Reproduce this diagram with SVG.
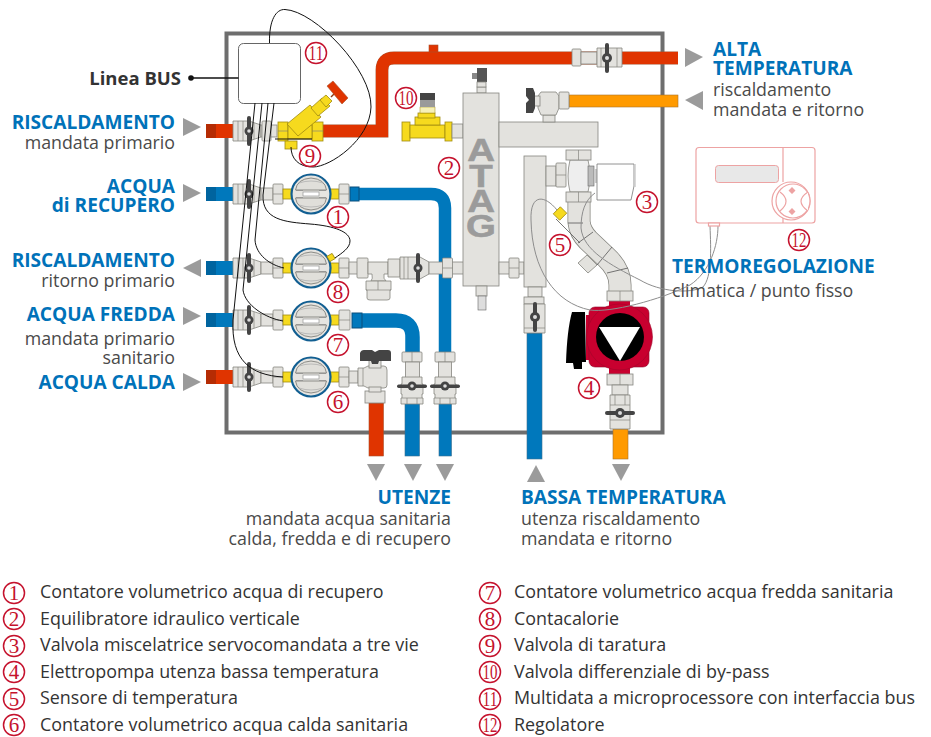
<svg xmlns="http://www.w3.org/2000/svg" width="931" height="737" viewBox="0 0 931 737">
<style>
text{font-family:"Open Sans","Noto Sans","Liberation Sans",sans-serif}
.h{font-size:19.100px;font-weight:700;fill:#0072b9}
.t{font-size:17.800px;fill:#4a4a4a}
.l{font-size:17.900px;fill:#333}
.e{text-anchor:end}
.n circle{fill:#fff;stroke:#c5122d;stroke-width:1.500}
.n text{font-family:"Liberation Serif",serif;font-size:21px;fill:#c5122d;text-anchor:middle}
.g{fill:#e3e2de;stroke:#85857f;stroke-width:.8}
.ln{stroke:#85857f;stroke-width:.7;fill:none}
.y{fill:#f6da1e;stroke:#a08a10;stroke-width:.8}
.hd{fill:#444}
.tri{fill:#9b9b9b}
.red{fill:#e03400;stroke:#a8502c;stroke-width:.6}
.blue{fill:#0078bc;stroke:#3b6f90;stroke-width:.6}
.or{fill:#ff9a00;stroke:#a8742c;stroke-width:.6}
.w{fill:none;stroke:#111;stroke-width:1}
.wg{fill:none;stroke:#8d8d8d;stroke-width:1}
.rg{fill:#fff;stroke:#eda3a3;stroke-width:1.200}
</style>
<defs>
<g id="meter">
<circle r="19.500" fill="#e6e5e1" stroke="#125f92" stroke-width="2.200"/>
<path d="M-15.500-4Q-14-15 0-16Q14-15 15.500-4Z" fill="#e0dfda" stroke="#8b8b86" stroke-width="1"/>
<path d="M-15.500 4Q-14 15 0 16Q14 15 15.500 4Z" fill="#e0dfda" stroke="#8b8b86" stroke-width="1"/>
<path d="M-12-11Q0-15 12-11M-12 11Q0 15 12 11" fill="none" stroke="#aaa" stroke-width=".7"/>
<rect x="-8" y="-2" width="16" height="4" fill="#fff" stroke="#888" stroke-width=".6"/>
<path d="M-15-3.500H-8M8-3.500H15M-15 3.500H-8M8 3.500H15" stroke="#888" stroke-width=".7"/>
</g>
<g id="valveH">
<path class="g" d="M0-10H16L28-6V6L16 10H0Z"/>
<path class="ln" d="M5-10V10M10-10V10M21-8V8"/>
<rect x="14" y="-15" width="4" height="30" rx="2" class="hd"/>
<circle cx="16" r="4.500" fill="#444"/><circle cx="16" r="1.800" fill="#ddd"/>
</g>
<g id="valveV">
<path class="g" d="M-10-9H10V-2H11V8H10V12H11V18H-11V12H-10V8H-11V-2H-10Z"/>
<path class="ln" d="M-10 12H10M-5 12V18M5 12V18"/>
<rect x="-15" y="-1.500" width="30" height="3.500" rx="1.700" class="hd"/>
<circle r="4.500" fill="#444"/><circle r="1.800" fill="#ddd"/>
</g>
<g id="fit"><rect x="-5" y="-10" width="10" height="20" rx="1" class="g"/><path class="ln" d="M-5 0H5"/></g>
<g id="fitV"><rect x="-10" y="-5" width="20" height="10" rx="1" class="g"/><path class="ln" d="M0-5V5"/></g>
</defs>
<rect width="931" height="737" fill="#fff"/>
<rect id="frame" x="226.500" y="33.500" width="436" height="399" fill="#fff" stroke="#6e6e6e" stroke-width="4"/>

<g id="pipes">
<path d="M323 131H382V70Q382 58 394 58H678" fill="none" stroke="#a8502c" stroke-width="12.800"/>
<path d="M323 131H382V70Q382 58 394 58H678" fill="none" stroke="#e03400" stroke-width="12"/>
<rect x="429" y="45" width="9" height="7" class="red"/>
<path d="M358 194H431Q445 194 445 208V352" fill="none" stroke="#0078bc" stroke-width="12.500"/>
<path d="M362 320.500H396Q412.500 320.500 412.500 337V352" fill="none" stroke="#0078bc" stroke-width="14.500"/>
<rect x="405" y="403" width="14.500" height="53" class="blue"/>
<rect x="439" y="403" width="12.500" height="53" class="blue"/>
<rect x="369" y="403" width="14.500" height="53" class="red"/>
<rect x="527" y="333" width="15" height="126" class="blue"/>
<rect x="613" y="429" width="15" height="30" class="or"/>
<rect x="569" y="95" width="109" height="12" class="or"/>
</g>

<g id="inlets">
<rect x="206" y="124" width="10" height="14" fill="#b52c04"/><rect x="216" y="124" width="18" height="14" fill="#e03400"/>
<rect x="206" y="187" width="10" height="14" fill="#00649f"/><rect x="216" y="187" width="18" height="14" fill="#0078bc"/>
<rect x="206" y="261" width="10" height="14" fill="#00649f"/><rect x="216" y="261" width="18" height="14" fill="#0078bc"/>
<rect x="206" y="313" width="10" height="14" fill="#00649f"/><rect x="216" y="313" width="18" height="14" fill="#0078bc"/>
<rect x="206" y="370" width="10" height="14" fill="#b52c04"/><rect x="216" y="370" width="18" height="14" fill="#e03400"/>
</g>

<g id="row-heating-in">
<use href="#valveH" x="233" y="131"/>
<rect x="261" y="125" width="16" height="12" class="g"/>
<rect x="262" y="121" width="9" height="20" rx="1" class="g"/>
</g>
<g id="row-recovery">
<use href="#valveH" x="233" y="194"/>
<rect x="261" y="188" width="12" height="12" class="g"/>
<use href="#fit" x="278" y="194"/>
<rect x="283" y="189" width="9" height="10" class="y"/><rect x="330" y="189" width="9" height="10" class="y"/>
<use href="#fit" x="344" y="194"/>
<rect x="350" y="187" width="9" height="14" fill="#0078bc" stroke="#0a4f7c"/>
</g>
<g id="row-return">
<use href="#valveH" x="233" y="268"/>
<rect x="261" y="262" width="12" height="12" class="g"/>
<use href="#fit" x="278" y="268"/>
<rect x="283" y="263" width="9" height="10" class="y"/><rect x="330" y="263" width="9" height="10" class="y"/>
<use href="#fit" x="344" y="268"/>
<rect x="349" y="262" width="9" height="12" class="g"/>
<rect x="357" y="258" width="11" height="20" rx="1" class="g"/>
<path class="g" d="M368 262H388V274H384Q383 279 386 281H371Q373 279 372 274H368Z"/>
<path class="g" d="M366 281H391V290H390V298Q390 300 387 300H370Q367 300 367 298V290H366Z"/>
<path class="ln" d="M366 290H391M378 281V290"/>
<path class="g" d="M388 259H400V277H388Z"/>
<path class="g" d="M400 257H420L429 262V274L420 279H400Z"/>
<path class="ln" d="M404 257V279M408 257V279"/>
<rect x="416" y="253" width="4" height="30" rx="2" class="hd"/>
<circle cx="418" cy="268" r="4.500" fill="#444"/><circle cx="418" cy="268" r="1.800" fill="#ddd"/>
<rect x="429" y="262" width="35" height="12" class="g"/>
<use href="#fit" x="447.500" y="268"/>
</g>
<g id="row-cold">
<use href="#valveH" x="233" y="320"/>
<rect x="261" y="314" width="12" height="12" class="g"/>
<use href="#fit" x="278" y="320"/>
<rect x="283" y="315" width="9" height="10" class="y"/><rect x="330" y="315" width="9" height="10" class="y"/>
<rect x="339" y="310" width="11" height="20" rx="1" class="g"/><path class="ln" d="M339 320H350"/>
<rect x="352" y="313" width="10" height="15" fill="#0078bc" stroke="#0a4f7c"/>
</g>
<g id="row-hot">
<use href="#valveH" x="233" y="377"/>
<rect x="261" y="371" width="12" height="12" class="g"/>
<use href="#fit" x="278" y="377"/>
<rect x="283" y="372" width="9" height="10" class="y"/><rect x="330" y="372" width="9" height="10" class="y"/>
<use href="#fit" x="344" y="377"/>
<rect x="349" y="371" width="9" height="12" class="g"/>
<path class="g" d="M358 368H364L368 366H384Q387 366 387 370V385Q387 388 384 388H368L364 386H358Z"/>
<path class="ln" d="M363 368V386"/>
<rect x="369" y="360" width="12" height="8" class="g"/>
<path fill="#444" d="M360 353Q361 350 364 350H372L375 352L379 350H388Q391 350 391 353V361H379L378 364H372L371 361H360Z"/>
<rect x="365" y="391" width="20" height="12" class="g"/>
<rect x="369" y="387" width="12" height="5" class="g"/>
</g>
<g id="meters">
<use href="#meter" x="311" y="194"/>
<use href="#meter" x="311" y="268"/>
<use href="#meter" x="311" y="321"/>
<use href="#meter" x="311" y="377"/>
</g>
<rect id="meter-sensor" x="328" y="254.500" width="6" height="6" class="y" transform="rotate(-30 331 257.500)"/>

<g id="drops">
<use href="#fitV" x="412" y="357"/><rect x="405.500" y="362" width="14" height="16" class="g"/><use href="#valveV" x="412" y="386"/>
<use href="#fitV" x="445" y="357"/><rect x="438.500" y="362" width="13" height="16" class="g"/><use href="#valveV" x="445" y="386"/>
</g>

<g id="valve-9">
<rect x="278" y="122" width="10" height="19" class="y"/><rect x="312" y="122" width="11" height="19" class="y"/>
<path class="ln" d="M278 131H288M312 131H323"/>
<rect x="285" y="141" width="12" height="8" class="y"/>
<rect x="288" y="125" width="24" height="14" class="y"/>
<path class="y" d="M287 124L310 105L321 117L298 136Z"/>
<path class="y" d="M311 108L322 98L330 106L318 116Z"/>
<path class="y" d="M320 100L326 95L332 101L326 107Z"/>
<path stroke="#8c3a10" stroke-width="1.500" d="M331 97L336 92"/>
<path fill="#e03400" stroke="#a8502c" stroke-width=".6" d="M327 86L333 81L348 98L342 104Z"/>
<path stroke="#111" stroke-width="1.200" d="M275 139H312"/>
</g>
<g id="valve-10">
<rect x="402" y="122" width="8" height="19" class="y"/>
<rect x="410" y="125" width="35" height="13" class="y"/>
<rect x="445" y="122" width="7" height="19" class="y"/>
<rect x="415" y="117" width="25" height="8" class="y"/>
<rect x="418" y="113" width="17" height="5" class="y"/>
<rect x="420" y="107" width="15" height="6" fill="#f6f0b8" stroke="#a08a10" stroke-width=".5"/>
<rect x="420" y="93" width="15" height="7" fill="#444"/>
<rect x="420" y="100" width="15" height="7" fill="#9a9a9a"/>
<rect x="452" y="124" width="11" height="14" class="g"/>
</g>
<g id="hydraulic-equilibrator">
<rect x="477" y="87" width="9" height="6" class="g"/>
<rect x="477" y="68" width="10" height="14" fill="#555"/><rect x="472" y="73" width="5" height="6" fill="#888"/>
<rect x="477" y="82" width="9" height="5" class="g"/>
<rect x="463" y="93" width="36" height="193" class="g"/>
<rect x="499" y="122" width="99" height="25" class="g"/>
<text transform="translate(481 132.500) scale(1.200 1)" x="0" y="0" style="writing-mode:vertical-rl;text-orientation:upright;font-family:'Liberation Sans',sans-serif;font-size:32px;font-weight:700;fill:#9b9b9b;stroke:#9b9b9b;stroke-width:.6;letter-spacing:-10px">ATAG</text>
<rect x="476" y="286" width="11" height="10" class="g"/><rect x="478" y="296" width="8" height="14" fill="#ddd" stroke="#666" stroke-width=".6"/>
<rect x="499" y="262" width="25" height="12" class="g"/>
<use href="#fit" x="514" y="268"/>
</g>
<g id="valve-top">
<rect x="543" y="115" width="12" height="7" class="g"/>
<path class="g" d="M541 92H556L559 96V108L556 115H541L538 108V96Z"/>
<rect x="534" y="96" width="6" height="10" class="g"/>
<path fill="#444" d="M526 88H533L535 93V108L533 113H526V103L529 100L526 96Z"/>
<rect x="559" y="92" width="10" height="17" rx="1" class="g"/>
</g>
<g id="valve-high">
<rect x="572" y="49" width="9" height="17" rx="1" class="g"/>
<rect x="581" y="52" width="16" height="12" class="g"/>
<path class="g" d="M597 48H622V67H597Z"/>
<path class="ln" d="M601 48V67M617 48V67"/>
<rect x="605" y="43" width="4" height="30" rx="2" class="hd"/><circle cx="607" cy="58" r="5" fill="#444"/><circle cx="607" cy="58" r="2" fill="#ddd"/>
</g>
<g id="return-column">
<rect x="524" y="156" width="22" height="131" class="g"/>
<rect x="528" y="287" width="14" height="10" class="g"/>
<rect x="524" y="297" width="20" height="7" class="g"/>
<path class="g" d="M524 304H545V333H524Z"/>
<path class="ln" d="M524 328H545"/>
<rect x="533" y="302" width="4" height="30" rx="2" class="hd"/><circle cx="535" cy="317" r="5" fill="#444"/><circle cx="535" cy="317" r="2" fill="#ddd"/>
</g>
<g id="elbow">
<path class="g" d="M578 263L588 273L597 265L587 255Z"/>
<path d="M579 200V222Q580 232 588 240L606 257Q620 270 620 285V292" fill="none" stroke="#85857f" stroke-width="23"/>
<path d="M579 200V222Q580 232 588 240L606 257Q620 270 620 285V292" fill="none" stroke="#e3e2de" stroke-width="21.500"/>
<path d="M568 223H583M578 243L593 232M597 265L612 247M607 273L628 268" stroke="#555" stroke-width=".8" fill="none"/>
</g>
<g id="mixing-valve">
<rect x="546" y="166" width="10" height="20" class="g"/>
<rect x="556" y="163" width="10" height="24" rx="1" class="g"/>
<path class="ln" d="M556 175H566"/>
<path d="M570 160H588Q592 176 588 192H570Q566 176 570 160Z" fill="#eee" stroke="#85857f" stroke-width=".8"/>
<rect x="566" y="150" width="25" height="10" class="g"/><path class="ln" d="M578.500 150V160"/>
<rect x="566" y="192" width="25" height="10" class="g"/><path class="ln" d="M578.500 192V202"/>
<rect x="588" y="166" width="6" height="20" fill="#bbb" stroke="#666" stroke-width=".6"/>
<rect x="594" y="169" width="3" height="14" fill="#ccc"/>
<path d="M597 164H634V186L631 200H597Z" fill="#fff" stroke="#777" stroke-width=".8"/>
<path d="M635 164V187" stroke="#ccc" stroke-width="1.500"/>
</g>
<rect id="sensor-5" x="555" y="209" width="10" height="9" class="y" transform="rotate(-45 560 213.500)"/>
<path id="sensor-5-stem" d="M556 219L580 243" stroke="#555" stroke-width=".8"/>
<g id="pump">
<path fill="#000" d="M572 312H585L586 362H582V369H574L573 363H566Q567 330 572 312Z"/>
<rect x="586" y="315" width="4" height="45" fill="#c8002f"/>
<rect x="609" y="300" width="21" height="8" fill="#c8002f"/>
<rect x="609" y="366" width="21" height="8" fill="#c8002f"/>
<rect x="589" y="307" width="60" height="60" rx="6" fill="#c8002f" stroke="#8d0c2c" stroke-width=".6"/>
<circle cx="619.500" cy="337" r="33" fill="#c8002f" stroke="#a0062a" stroke-width=".6"/>
<circle cx="620" cy="337" r="24" fill="#000"/>
<path fill="#fff" d="M599 327H640L620 361Z"/>
<rect x="607" y="291" width="26" height="10" class="g"/><path class="ln" d="M620 291V301"/>
<rect x="607" y="374" width="26" height="11" class="g"/><path class="ln" d="M620 374V385"/>
<rect x="612" y="385" width="16" height="10" class="g"/>
<path class="g" d="M610 395H630V429H610Z"/><path class="ln" d="M610 405H630M610 420H630M615 395V405M625 395V405"/>
<rect x="605" y="411" width="30" height="4" rx="2" class="hd"/><circle cx="620" cy="413" r="5" fill="#444"/><circle cx="620" cy="413" r="2" fill="#ddd"/>
</g>

<g id="multidata"><rect x="238.500" y="43.500" width="62" height="60" rx="5" fill="#fff" stroke="#666" stroke-width="1"/></g>

<g id="connectors">
<path class="w" d="M269.500 43C269 20 276 9 285 9.500C315 11 372 70 371 107C370 140 330 167 313 167C298 167 291 158 291 147"/>
<path class="w" d="M255 103L233 320C231 360 250 375 283 377"/>
<path class="w" d="M262 103L243 290C245 305 265 318 283 321"/>
<path class="w" d="M268 103L255 240C256 255 270 265 284 268"/>
<path class="w" d="M274 103L263 195C262 220 285 222 310 224C335 226 350 232 350 241C350 248 342 253 335 258"/>
<path d="M191 78H238.500" stroke="#111" stroke-width="1.600"/><circle cx="191" cy="78" r="2.800" fill="#111"/>
<path class="wg" d="M557 210C545 195 530 193 531 220C532 270 555 303 590 310C610 313 660 300 690 285C710 272 718 245 718 226"/>
<path class="wg" d="M595 193C585 200 581 212 581 228C583 250 610 265 640 280C660 292 690 294 703 287C712 277 711 250 710 226"/>
</g>

<g id="regulator">
<rect x="696" y="147.500" width="119" height="75.500" rx="3" class="rg"/>
<path class="rg" d="M783 147.500V182M783 218V223"/>
<rect x="715.500" y="165.500" width="63" height="17" rx="3" fill="#e8e8e8" stroke="#eda3a3"/>
<circle cx="791" cy="201" r="19" class="rg"/><circle cx="793" cy="201" r="17" class="rg"/>
<path class="rg" d="M780 192Q792 201 780 211M808 192Q794 201 808 211"/>
<path fill="#eda3a3" d="M792 187l3.500 3.500-3.500 3.500-3.500-3.500zM792 208l3.500 3.500-3.500 3.500-3.500-3.500z"/>
<rect x="708.500" y="223" width="11" height="3" class="rg"/>
</g>

<g id="arrows" class="tri">
<path d="M183 118L201 127L183 136Z"/><path d="M183 184L201 193L183 202Z"/>
<path d="M201 259L183 268L201 277Z"/><path d="M183 307L201 316L183 325Z"/><path d="M183 373L201 382L183 391Z"/>
<path d="M685 48L703 57L685 67Z"/><path d="M703 91L685 100L703 110Z"/>
<path d="M367 464H385L376 481Z"/><path d="M404 464H422L413 481Z"/><path d="M436 464H454L445 481Z"/>
<path d="M527 482H545L536 465Z"/><path d="M612 464H630L621 481Z"/>
</g>

<g id="labels" transform="translate(0 1)">
<text class="l e" x="181" y="84" style="font-weight:700;font-size:18.500px">Linea BUS</text>
<text class="h e" x="175" y="128">RISCALDAMENTO</text><text class="t e" x="175" y="148">mandata primario</text>
<text class="h e" x="175" y="192">ACQUA</text><text class="h e" x="175" y="211">di RECUPERO</text>
<text class="h e" x="175" y="266">RISCALDAMENTO</text><text class="t e" x="175" y="286">ritorno primario</text>
<text class="h e" x="175" y="320">ACQUA FREDDA</text><text class="t e" x="175" y="344">mandata primario</text><text class="t e" x="175" y="363">sanitario</text>
<text class="h e" x="175" y="388">ACQUA CALDA</text>
<text class="h" x="713" y="55">ALTA</text><text class="h" x="713" y="74">TEMPERATURA</text>
<text class="t" x="713" y="95">riscaldamento</text><text class="t" x="713" y="115">mandata e ritorno</text>
<text class="h" x="672" y="272">TERMOREGOLAZIONE</text><text class="t" x="672" y="296">climatica / punto fisso</text>
<text class="h e" x="451" y="503">UTENZE</text><text class="t e" x="451" y="524">mandata acqua sanitaria</text><text class="t e" x="451" y="544">calda, fredda e di recupero</text>
<text class="h" x="521" y="503">BASSA TEMPERATURA</text><text class="t" x="521" y="524">utenza riscaldamento</text><text class="t" x="521" y="544">mandata e ritorno</text>
</g>

<g id="callouts" class="n">
<circle cx="338" cy="217" r="10.500"/><text x="338" y="224">1</text>
<circle cx="449" cy="168" r="10.500"/><text x="449" y="175">2</text>
<circle cx="647" cy="202" r="10.500"/><text x="647" y="209">3</text>
<circle cx="589" cy="388" r="10.500"/><text x="589" y="395">4</text>
<circle cx="560" cy="245" r="10.500"/><text x="560" y="252">5</text>
<circle cx="338" cy="402" r="10.500"/><text x="338" y="409">6</text>
<circle cx="338" cy="345" r="10.500"/><text x="338" y="352">7</text>
<circle cx="338" cy="292" r="10.500"/><text x="338" y="299">8</text>
<circle cx="310" cy="156" r="10.500"/><text x="310" y="163">9</text>
<circle cx="406" cy="98" r="10.500"/><text x="406" y="105" textLength="15" lengthAdjust="spacingAndGlyphs">10</text>
<circle cx="316" cy="53" r="10.500"/><text x="316" y="60" textLength="15" lengthAdjust="spacingAndGlyphs">11</text>
<circle cx="799" cy="240" r="10.500"/><text x="799" y="247" textLength="15" lengthAdjust="spacingAndGlyphs">12</text>
</g>

<g id="legend">
<g class="n">
<circle cx="14" cy="593" r="10.500"/><text x="14" y="600">1</text>
<circle cx="14" cy="619" r="10.500"/><text x="14" y="626">2</text>
<circle cx="14" cy="646" r="10.500"/><text x="14" y="653">3</text>
<circle cx="14" cy="672" r="10.500"/><text x="14" y="679">4</text>
<circle cx="14" cy="699" r="10.500"/><text x="14" y="706">5</text>
<circle cx="14" cy="725" r="10.500"/><text x="14" y="732">6</text>
<circle cx="490" cy="593" r="10.500"/><text x="490" y="600">7</text>
<circle cx="490" cy="619" r="10.500"/><text x="490" y="626">8</text>
<circle cx="490" cy="646" r="10.500"/><text x="490" y="653">9</text>
<circle cx="490" cy="672" r="10.500"/><text x="490" y="679" textLength="15" lengthAdjust="spacingAndGlyphs">10</text>
<circle cx="490" cy="699" r="10.500"/><text x="490" y="706" textLength="15" lengthAdjust="spacingAndGlyphs">11</text>
<circle cx="490" cy="725" r="10.500"/><text x="490" y="732" textLength="15" lengthAdjust="spacingAndGlyphs">12</text>
</g>
<text class="l" x="40" y="598">Contatore volumetrico acqua di recupero</text>
<text class="l" x="40" y="625">Equilibratore idraulico verticale</text>
<text class="l" x="40" y="651">Valvola miscelatrice servocomandata a tre vie</text>
<text class="l" x="40" y="678">Elettropompa utenza bassa temperatura</text>
<text class="l" x="40" y="704">Sensore di temperatura</text>
<text class="l" x="40" y="731">Contatore volumetrico acqua calda sanitaria</text>
<text class="l" x="514" y="598">Contatore volumetrico acqua fredda sanitaria</text>
<text class="l" x="514" y="625">Contacalorie</text>
<text class="l" x="514" y="651">Valvola di taratura</text>
<text class="l" x="514" y="678">Valvola differenziale di by-pass</text>
<text class="l" x="514" y="704">Multidata a microprocessore con interfaccia bus</text>
<text class="l" x="514" y="731">Regolatore</text>
</g>
</svg>
